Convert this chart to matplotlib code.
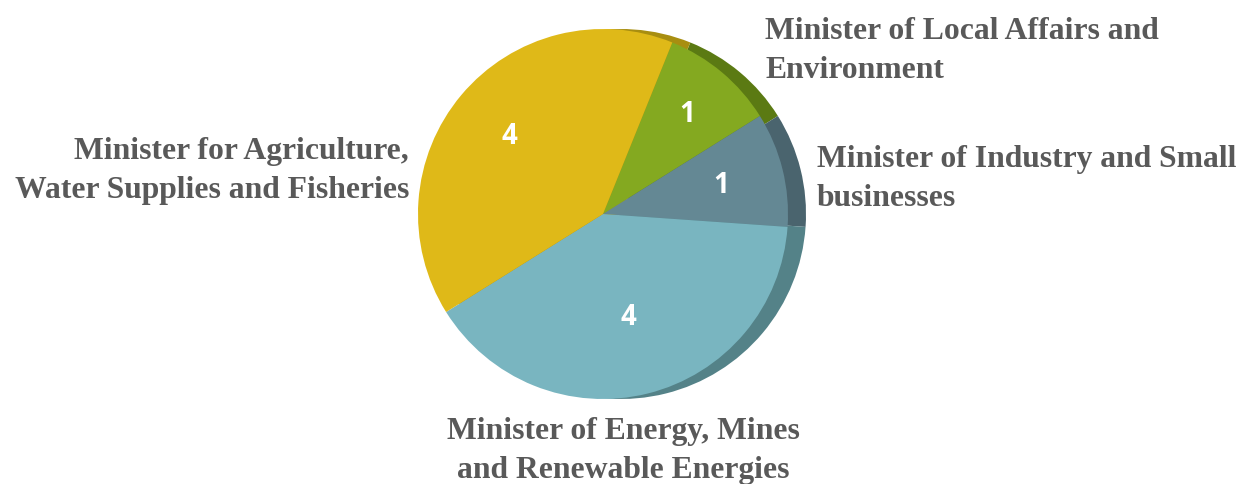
import numpy as np
import matplotlib.pyplot as plt

# slices, clockwise from the top
ministers = ['Minister of Local Affairs and\nEnvironment',
             'Minister of Industry and Small\nbusinesses',
             'Minister of Energy, Mines\nand Renewable Energies',
             'Minister for Agriculture,\nWater Supplies and Fisheries']
counts = [1, 1, 4, 4]

top_colors = ['#84a920', '#648894', '#79b5c0', '#dfb918']
side_colors = ['#5b7a13', '#4a646e', '#548288', '#a88e10']

W, H = 1251, 485
fig = plt.figure(figsize=(W / 100, H / 100), dpi=100)
ax = fig.add_axes([0, 0, 1, 1])

cx, cy, r = 603, 270, 185
depth = 18

# extruded side (darker copy shifted right)
ax.pie(counts, colors=side_colors, center=(cx + depth, cy), radius=r,
       startangle=68, counterclock=False, frame=True,
       wedgeprops=dict(linewidth=0))
wedges, _, autotexts = ax.pie(
    counts, colors=top_colors, center=(cx, cy), radius=r,
    startangle=68, counterclock=False, frame=True,
    autopct=lambda p: '%d' % round(p * sum(counts) / 100),
    pctdistance=0.65,
    wedgeprops=dict(linewidth=0),
    textprops=dict(color='white', fontsize=20, fontweight='bold',
                   family='Open Sans'))

# nudge the value labels the way the original sits
dist = [0.71, 0.66, 0.57, 0.66]
for w, t, d in zip(wedges, autotexts, dist):
    ang = np.deg2rad((w.theta1 + w.theta2) / 2)
    t.set_position((cx + d * r * np.cos(ang), cy + d * r * np.sin(ang)))

lab = dict(fontsize=22.8, fontweight='bold', family='Liberation Serif',
           color='#595959', linespacing=1.42)
ax.text(765, H - 51, ministers[0], ha='left', va='center', **lab)
ax.text(817, H - 179, ministers[1], ha='left', va='center', **lab)
ax.text(623, H - 451, ministers[2], ha='center', va='center', **lab)
ax.text(409, H - 171, ministers[3], ha='right', va='center', **lab)

ax.set_xlim(0, W)
ax.set_ylim(0, H)
ax.set_aspect('equal')
ax.axis('off')

fig.savefig('out.png', dpi=100)
